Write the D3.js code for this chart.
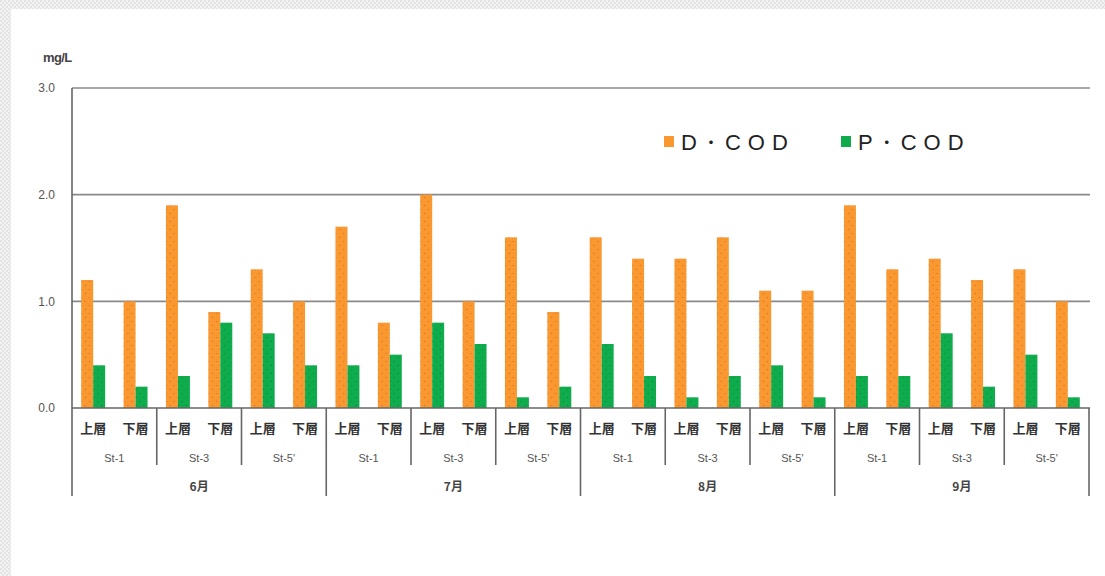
<!DOCTYPE html>
<html>
<head>
<meta charset="utf-8">
<script src="https://cdn.jsdelivr.net/npm/d3@7"></script>
<style>
  html, body { margin: 0; padding: 0; background: #fff; }
  svg { display: block; }
</style>
</head>
<body>
<svg id="chart" width="1105" height="576"></svg>
<script>
// Monthly survey categories
const months = ["6月", "7月", "8月", "9月"];
const stations = ["St-1", "St-3", "St-5'"];
const layers = ["上層", "下層"];

// Series values (mg/L), ordered month > station > layer
const dCod = [1.2, 1.0, 1.9, 0.9, 1.3, 1.0,
              1.7, 0.8, 2.0, 1.0, 1.6, 0.9,
              1.6, 1.4, 1.4, 1.6, 1.1, 1.1,
              1.9, 1.3, 1.4, 1.2, 1.3, 1.0];
const pCod = [0.4, 0.2, 0.3, 0.8, 0.7, 0.4,
              0.4, 0.5, 0.8, 0.6, 0.1, 0.2,
              0.6, 0.3, 0.1, 0.3, 0.4, 0.1,
              0.3, 0.3, 0.7, 0.2, 0.5, 0.1];
const seriesNames = [["D", "・", "COD"], ["P", "・", "COD"]];
const yTicks = [0, 1, 2, 3];
const unitLabel = "mg/L";

const svg = d3.select("#chart");
const W = 1105, H = 576;
const plot = { left: 72, right: 1089, top: 88, bottom: 408 };
const latin = "'Liberation Sans', Arial, sans-serif";
const catFont = "'Noto Sans CJK JP', 'Noto Sans', sans-serif";

const defs = svg.append("defs");

// light checker border frame
const chk = defs.append("pattern").attr("id", "chk")
  .attr("width", 4).attr("height", 4).attr("patternUnits", "userSpaceOnUse");
chk.append("rect").attr("width", 4).attr("height", 4).attr("fill", "#f2f2f2");
chk.append("rect").attr("width", 2).attr("height", 2).attr("fill", "#e4e4e4");
chk.append("rect").attr("x", 2).attr("y", 2).attr("width", 2).attr("height", 2).attr("fill", "#e4e4e4");
svg.append("rect").attr("width", W).attr("height", 9).attr("fill", "url(#chk)");
svg.append("rect").attr("width", 11).attr("height", H).attr("fill", "url(#chk)");

// dotted fills for the bars
function dotPattern(id, base, dot) {
  const p = defs.append("pattern").attr("id", id)
    .attr("width", 8).attr("height", 8).attr("patternUnits", "userSpaceOnUse");
  p.append("rect").attr("width", 8).attr("height", 8).attr("fill", base);
  p.append("rect").attr("x", 1).attr("y", 1).attr("width", 1).attr("height", 1).attr("fill", dot);
  p.append("rect").attr("x", 5).attr("y", 5).attr("width", 1).attr("height", 1).attr("fill", dot);
}
dotPattern("dotO", "#f9982f", "#e0603a");
dotPattern("dotG", "#0eac4c", "#08803a");

const seriesFill = ["url(#dotO)", "url(#dotG)"];
const legendFill = ["#f9982f", "#0eac4c"];

// rows: one per month/station/layer
const rows = [];
months.forEach((m, mi) => stations.forEach((s, si) => layers.forEach((l, li) => {
  const i = rows.length;
  rows.push({ i, month: m, station: s, layer: l, vals: [dCod[i], pCod[i]] });
})));

const x0 = d3.scaleBand().domain(d3.range(rows.length)).range([plot.left, plot.right]).padding(0);
const x1 = d3.scaleBand().domain([0, 1]).range([0, x0.bandwidth()]).paddingInner(0).paddingOuter(0.77);
const y = d3.scaleLinear().domain([0, 3]).range([plot.bottom, plot.top]);

// gridlines
svg.append("g").selectAll("line").data(yTicks.filter(t => t > 0)).join("line")
  .attr("x1", plot.left).attr("x2", plot.right + 1)
  .attr("y1", d => y(d)).attr("y2", d => y(d))
  .attr("stroke", "#8a8a8a").attr("stroke-width", 1.6);

// y axis
const yAxis = svg.append("g").attr("transform", `translate(${plot.left},0)`)
  .call(d3.axisLeft(y).tickValues(yTicks).tickFormat(d3.format(".1f")).tickSize(0).tickPadding(17));
yAxis.select(".domain").remove();
yAxis.selectAll("text").attr("font-family", latin)
  .attr("font-size", 12).attr("fill", "#555").attr("dy", "0.32em");

svg.append("text").attr("x", 43).attr("y", 62).text(unitLabel)
  .attr("font-family", latin).attr("font-size", 13)
  .attr("font-weight", "bold").attr("fill", "#444").attr("letter-spacing", "-0.6");

// bars
const groups = svg.append("g").selectAll("g").data(rows).join("g")
  .attr("transform", d => `translate(${x0(d.i)},0)`);
groups.selectAll("rect").data(d => d.vals.map((v, k) => ({ v, k }))).join("rect")
  .attr("x", d => x1(d.k)).attr("width", x1.bandwidth())
  .attr("y", d => y(d.v)).attr("height", d => y(0) - y(d.v))
  .attr("fill", d => seriesFill[d.k]);

// baseline and left axis line
svg.append("line").attr("x1", plot.left).attr("x2", plot.right + 1)
  .attr("y1", y(0)).attr("y2", y(0)).attr("stroke", "#666").attr("stroke-width", 1.6);
svg.append("line").attr("x1", plot.left).attr("x2", plot.left)
  .attr("y1", plot.top).attr("y2", 496).attr("stroke", "#666").attr("stroke-width", 1.6);

// hierarchical category axis
svg.append("g").selectAll("text").data(rows).join("text")
  .attr("x", d => x0(d.i) + x0.bandwidth() / 2).attr("y", 433)
  .attr("text-anchor", "middle").attr("font-family", catFont).attr("font-size", 13)
  .attr("font-weight", "bold").attr("fill", "#333").text(d => d.layer);

const stationGroups = [];
months.forEach((m, mi) => stations.forEach((s, si) => {
  const start = (mi * stations.length + si) * layers.length;
  stationGroups.push({ s, start, end: start + layers.length });
}));
svg.append("g").selectAll("text").data(stationGroups).join("text")
  .attr("x", d => (x0(d.start) + x0(d.end - 1) + x0.bandwidth()) / 2).attr("y", 462)
  .attr("text-anchor", "middle").attr("font-family", latin)
  .attr("font-size", 11).attr("fill", "#555").text(d => d.s);
svg.append("g").selectAll("line").data(stationGroups.filter(d => d.start % 6 !== 0)).join("line")
  .attr("x1", d => x0(d.start)).attr("x2", d => x0(d.start))
  .attr("y1", y(0)).attr("y2", 465).attr("stroke", "#666").attr("stroke-width", 1.6);

const monthGroups = months.map((m, mi) => ({ m, start: mi * 6, end: mi * 6 + 6 }));
svg.append("g").selectAll("text").data(monthGroups).join("text")
  .attr("x", d => (x0(d.start) + x0(d.end - 1) + x0.bandwidth()) / 2).attr("y", 491)
  .attr("text-anchor", "middle").attr("font-family", catFont)
  .attr("font-size", 12).attr("font-weight", "bold").attr("fill", "#444").text(d => d.m);
svg.append("g").selectAll("line").data(monthGroups.map(d => d.end)).join("line")
  .attr("x1", d => d === rows.length ? plot.right : x0(d)).attr("x2", d => d === rows.length ? plot.right : x0(d))
  .attr("y1", y(0)).attr("y2", 496).attr("stroke", "#666").attr("stroke-width", 1.6);

// legend
const legend = svg.append("g").selectAll("g").data(seriesNames).join("g")
  .attr("transform", (d, k) => `translate(${664 + k * 177},0)`);
legend.append("rect").attr("x", 0).attr("y", 136).attr("width", 10).attr("height", 11)
  .attr("fill", (d, k) => legendFill[k]);
const lt = legend.append("text").attr("x", 17).attr("y", 150)
  .attr("font-family", latin).attr("font-size", 22)
  .attr("letter-spacing", "7").attr("fill", "#222");
lt.append("tspan").text(d => d[0]);
lt.append("tspan").attr("font-family", catFont).attr("font-size", 14).attr("font-weight", "bold")
  .attr("dy", -3).text(d => d[1]);
lt.append("tspan").attr("dy", 3).text(d => d[2]);
</script>
</body>
</html>
